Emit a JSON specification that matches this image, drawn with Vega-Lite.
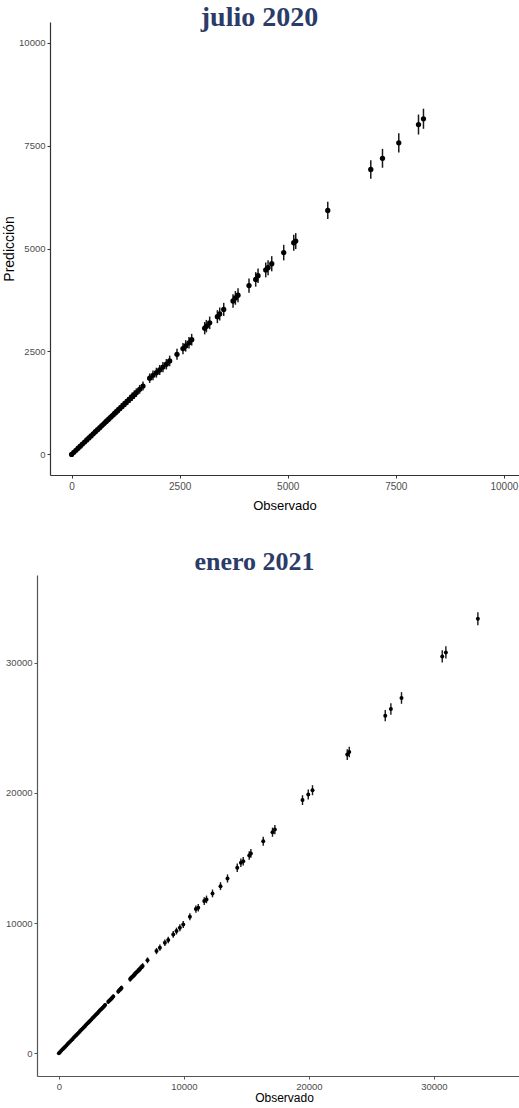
{
  "$schema": "https://vega.github.io/schema/vega-lite/v6.json",
  "background": "white",
  "padding": {"left": 2, "top": 4, "right": 0, "bottom": 0},
  "config": {
    "view": {"stroke": null},
    "axis": {"grid": false, "labelColor": "#4d4d4d", "titleColor": "#000000", "titleFontWeight": "normal", "tickSize": 3, "labelPadding": 2}
  },
  "datasets": {
    "jul": [
      {"obs": 8140, "pred": 8150, "lo": 7906, "hi": 8394},
      {"obs": 8025, "pred": 8010, "lo": 7768, "hi": 8252},
      {"obs": 7569, "pred": 7565, "lo": 7330, "hi": 7800},
      {"obs": 7192, "pred": 7190, "lo": 6961, "hi": 7419},
      {"obs": 6921, "pred": 6920, "lo": 6695, "hi": 7145},
      {"obs": 5926, "pred": 5925, "lo": 5717, "hi": 6133},
      {"obs": 5185, "pred": 5180, "lo": 4986, "hi": 5374},
      {"obs": 5139, "pred": 5140, "lo": 4946, "hi": 5334},
      {"obs": 4907, "pred": 4900, "lo": 4711, "hi": 5089},
      {"obs": 4630, "pred": 4630, "lo": 4446, "hi": 4814},
      {"obs": 4545, "pred": 4535, "lo": 4353, "hi": 4717},
      {"obs": 4491, "pred": 4480, "lo": 4299, "hi": 4661},
      {"obs": 4313, "pred": 4340, "lo": 4163, "hi": 4517},
      {"obs": 4259, "pred": 4250, "lo": 4074, "hi": 4426},
      {"obs": 4104, "pred": 4100, "lo": 3927, "hi": 4273},
      {"obs": 3850, "pred": 3865, "lo": 3697, "hi": 4033},
      {"obs": 3789, "pred": 3800, "lo": 3634, "hi": 3966},
      {"obs": 3734, "pred": 3725, "lo": 3560, "hi": 3890},
      {"obs": 3519, "pred": 3520, "lo": 3360, "hi": 3680},
      {"obs": 3426, "pred": 3410, "lo": 3252, "hi": 3568},
      {"obs": 3372, "pred": 3345, "lo": 3188, "hi": 3502},
      {"obs": 3194, "pred": 3195, "lo": 3042, "hi": 3348},
      {"obs": 3118, "pred": 3115, "lo": 2964, "hi": 3266},
      {"obs": 3079, "pred": 3065, "lo": 2915, "hi": 3215},
      {"obs": 2778, "pred": 2785, "lo": 2643, "hi": 2927},
      {"obs": 2715, "pred": 2710, "lo": 2569, "hi": 2851},
      {"obs": 2639, "pred": 2635, "lo": 2496, "hi": 2774},
      {"obs": 2576, "pred": 2570, "lo": 2433, "hi": 2707},
      {"obs": 2438, "pred": 2430, "lo": 2297, "hi": 2563},
      {"obs": 2268, "pred": 2270, "lo": 2141, "hi": 2399},
      {"obs": 2192, "pred": 2190, "lo": 2064, "hi": 2316},
      {"obs": 2113, "pred": 2120, "lo": 1996, "hi": 2244},
      {"obs": 2037, "pred": 2050, "lo": 1928, "hi": 2172},
      {"obs": 1961, "pred": 1985, "lo": 1865, "hi": 2105},
      {"obs": 1882, "pred": 1920, "lo": 1803, "hi": 2037},
      {"obs": 1806, "pred": 1850, "lo": 1735, "hi": 1965},
      {"obs": 1651, "pred": 1660, "lo": 1550, "hi": 1770},
      {"obs": 1574, "pred": 1580, "lo": 1473, "hi": 1687},
      {"obs": 1497, "pred": 1500, "lo": 1396, "hi": 1604},
      {"obs": 1450, "pred": 1450, "lo": 1347, "hi": 1553},
      {"obs": 1400, "pred": 1400, "lo": 1299, "hi": 1501},
      {"obs": 1350, "pred": 1350, "lo": 1251, "hi": 1449},
      {"obs": 1300, "pred": 1300, "lo": 1203, "hi": 1397},
      {"obs": 1250, "pred": 1250, "lo": 1155, "hi": 1345},
      {"obs": 1200, "pred": 1200, "lo": 1106, "hi": 1294},
      {"obs": 1150, "pred": 1150, "lo": 1058, "hi": 1242},
      {"obs": 1100, "pred": 1100, "lo": 1010, "hi": 1190},
      {"obs": 1050, "pred": 1050, "lo": 962, "hi": 1138},
      {"obs": 1000, "pred": 1000, "lo": 915, "hi": 1085},
      {"obs": 950, "pred": 950, "lo": 867, "hi": 1033},
      {"obs": 900, "pred": 900, "lo": 819, "hi": 981},
      {"obs": 850, "pred": 850, "lo": 771, "hi": 929},
      {"obs": 800, "pred": 800, "lo": 724, "hi": 876},
      {"obs": 750, "pred": 750, "lo": 676, "hi": 824},
      {"obs": 700, "pred": 700, "lo": 629, "hi": 771},
      {"obs": 650, "pred": 650, "lo": 581, "hi": 719},
      {"obs": 600, "pred": 600, "lo": 534, "hi": 666},
      {"obs": 550, "pred": 550, "lo": 487, "hi": 613},
      {"obs": 500, "pred": 500, "lo": 440, "hi": 560},
      {"obs": 450, "pred": 450, "lo": 393, "hi": 507},
      {"obs": 400, "pred": 400, "lo": 346, "hi": 454},
      {"obs": 350, "pred": 350, "lo": 299, "hi": 401},
      {"obs": 300, "pred": 300, "lo": 253, "hi": 347},
      {"obs": 250, "pred": 250, "lo": 207, "hi": 293},
      {"obs": 200, "pred": 200, "lo": 162, "hi": 238},
      {"obs": 150, "pred": 150, "lo": 117, "hi": 183},
      {"obs": 100, "pred": 100, "lo": 73, "hi": 127},
      {"obs": 50, "pred": 50, "lo": 31, "hi": 69},
      {"obs": 0, "pred": 0, "lo": 0, "hi": 0}
    ],
    "ene": [
      {"obs": 33520, "pred": 33390, "lo": 32896, "hi": 33884},
      {"obs": 30960, "pred": 30800, "lo": 30325, "hi": 31275},
      {"obs": 30670, "pred": 30490, "lo": 30017, "hi": 30963},
      {"obs": 27410, "pred": 27300, "lo": 26853, "hi": 27747},
      {"obs": 26560, "pred": 26455, "lo": 26015, "hi": 26895},
      {"obs": 26110, "pred": 25940, "lo": 25504, "hi": 26376},
      {"obs": 23230, "pred": 23150, "lo": 22739, "hi": 23561},
      {"obs": 23070, "pred": 22950, "lo": 22540, "hi": 23360},
      {"obs": 20290, "pred": 20210, "lo": 19825, "hi": 20595},
      {"obs": 19950, "pred": 19880, "lo": 19499, "hi": 20261},
      {"obs": 19490, "pred": 19450, "lo": 19073, "hi": 19827},
      {"obs": 17280, "pred": 17190, "lo": 16835, "hi": 17545},
      {"obs": 17090, "pred": 16985, "lo": 16632, "hi": 17338},
      {"obs": 16350, "pred": 16290, "lo": 15945, "hi": 16635},
      {"obs": 15360, "pred": 15350, "lo": 15015, "hi": 15685},
      {"obs": 15230, "pred": 15195, "lo": 14862, "hi": 15528},
      {"obs": 14750, "pred": 14760, "lo": 14432, "hi": 15088},
      {"obs": 14560, "pred": 14636, "lo": 14310, "hi": 14962},
      {"obs": 14270, "pred": 14250, "lo": 13928, "hi": 14572},
      {"obs": 13490, "pred": 13430, "lo": 13116, "hi": 13744},
      {"obs": 12930, "pred": 12840, "lo": 12533, "hi": 13147},
      {"obs": 12290, "pred": 12280, "lo": 11981, "hi": 12579},
      {"obs": 11810, "pred": 11820, "lo": 11527, "hi": 12113},
      {"obs": 11630, "pred": 11690, "lo": 11399, "hi": 11981},
      {"obs": 11150, "pred": 11180, "lo": 10895, "hi": 11465},
      {"obs": 10960, "pred": 11075, "lo": 10792, "hi": 11358},
      {"obs": 10480, "pred": 10490, "lo": 10214, "hi": 10766},
      {"obs": 9950, "pred": 9900, "lo": 9631, "hi": 10169},
      {"obs": 9680, "pred": 9646, "lo": 9380, "hi": 9912},
      {"obs": 9410, "pred": 9390, "lo": 9128, "hi": 9652},
      {"obs": 9150, "pred": 9133, "lo": 8875, "hi": 9391},
      {"obs": 8750, "pred": 8700, "lo": 8447, "hi": 8953},
      {"obs": 8480, "pred": 8495, "lo": 8246, "hi": 8744},
      {"obs": 8080, "pred": 8110, "lo": 7867, "hi": 8353},
      {"obs": 7810, "pred": 7850, "lo": 7611, "hi": 8089},
      {"obs": 7090, "pred": 7137, "lo": 6910, "hi": 7364},
      {"obs": 6700, "pred": 6700, "lo": 6479, "hi": 6921},
      {"obs": 6600, "pred": 6600, "lo": 6381, "hi": 6819},
      {"obs": 6500, "pred": 6500, "lo": 6282, "hi": 6718},
      {"obs": 6400, "pred": 6400, "lo": 6184, "hi": 6616},
      {"obs": 6300, "pred": 6300, "lo": 6086, "hi": 6514},
      {"obs": 6200, "pred": 6200, "lo": 5987, "hi": 6413},
      {"obs": 6100, "pred": 6100, "lo": 5889, "hi": 6311},
      {"obs": 6000, "pred": 6000, "lo": 5791, "hi": 6209},
      {"obs": 5900, "pred": 5900, "lo": 5693, "hi": 6107},
      {"obs": 5800, "pred": 5800, "lo": 5594, "hi": 6006},
      {"obs": 5700, "pred": 5700, "lo": 5496, "hi": 5904},
      {"obs": 5010, "pred": 5010, "lo": 4819, "hi": 5201},
      {"obs": 4950, "pred": 4950, "lo": 4760, "hi": 5140},
      {"obs": 4850, "pred": 4850, "lo": 4662, "hi": 5038},
      {"obs": 4750, "pred": 4750, "lo": 4564, "hi": 4936},
      {"obs": 4350, "pred": 4350, "lo": 4172, "hi": 4528},
      {"obs": 4250, "pred": 4250, "lo": 4074, "hi": 4426},
      {"obs": 4150, "pred": 4150, "lo": 3976, "hi": 4324},
      {"obs": 4050, "pred": 4050, "lo": 3878, "hi": 4222},
      {"obs": 3950, "pred": 3950, "lo": 3780, "hi": 4120},
      {"obs": 3700, "pred": 3700, "lo": 3536, "hi": 3864},
      {"obs": 3600, "pred": 3600, "lo": 3438, "hi": 3762},
      {"obs": 3500, "pred": 3500, "lo": 3340, "hi": 3660},
      {"obs": 3400, "pred": 3400, "lo": 3243, "hi": 3557},
      {"obs": 3300, "pred": 3300, "lo": 3145, "hi": 3455},
      {"obs": 3200, "pred": 3200, "lo": 3047, "hi": 3353},
      {"obs": 3100, "pred": 3100, "lo": 2950, "hi": 3250},
      {"obs": 3000, "pred": 3000, "lo": 2852, "hi": 3148},
      {"obs": 2900, "pred": 2900, "lo": 2755, "hi": 3045},
      {"obs": 2800, "pred": 2800, "lo": 2657, "hi": 2943},
      {"obs": 2700, "pred": 2700, "lo": 2560, "hi": 2840},
      {"obs": 2600, "pred": 2600, "lo": 2462, "hi": 2738},
      {"obs": 2500, "pred": 2500, "lo": 2365, "hi": 2635},
      {"obs": 2400, "pred": 2400, "lo": 2268, "hi": 2532},
      {"obs": 2300, "pred": 2300, "lo": 2171, "hi": 2429},
      {"obs": 2200, "pred": 2200, "lo": 2073, "hi": 2327},
      {"obs": 2100, "pred": 2100, "lo": 1976, "hi": 2224},
      {"obs": 2000, "pred": 2000, "lo": 1879, "hi": 2121},
      {"obs": 1900, "pred": 1900, "lo": 1782, "hi": 2018},
      {"obs": 1800, "pred": 1800, "lo": 1685, "hi": 1915},
      {"obs": 1700, "pred": 1700, "lo": 1589, "hi": 1811},
      {"obs": 1600, "pred": 1600, "lo": 1492, "hi": 1708},
      {"obs": 1500, "pred": 1500, "lo": 1395, "hi": 1605},
      {"obs": 1400, "pred": 1400, "lo": 1299, "hi": 1501},
      {"obs": 1300, "pred": 1300, "lo": 1203, "hi": 1397},
      {"obs": 1200, "pred": 1200, "lo": 1106, "hi": 1294},
      {"obs": 1100, "pred": 1100, "lo": 1010, "hi": 1190},
      {"obs": 1000, "pred": 1000, "lo": 915, "hi": 1085},
      {"obs": 900, "pred": 900, "lo": 819, "hi": 981},
      {"obs": 800, "pred": 800, "lo": 724, "hi": 876},
      {"obs": 700, "pred": 700, "lo": 629, "hi": 771},
      {"obs": 600, "pred": 600, "lo": 534, "hi": 666},
      {"obs": 500, "pred": 500, "lo": 440, "hi": 560},
      {"obs": 400, "pred": 400, "lo": 346, "hi": 454},
      {"obs": 300, "pred": 300, "lo": 253, "hi": 347},
      {"obs": 200, "pred": 200, "lo": 162, "hi": 238},
      {"obs": 100, "pred": 100, "lo": 73, "hi": 127},
      {"obs": 0, "pred": 0, "lo": 0, "hi": 0}
    ]
  },
  "columns": 1,
  "center": true,
  "spacing": 37,
  "concat": [
    {
      "title": {"text": "julio 2020", "font": "Liberation Serif", "fontSize": 28, "fontWeight": "bold", "color": "#2B3B6A", "anchor": "middle", "offset": -10, "dx": -25},
      "width": 469,
      "height": 453,
      "data": {"name": "jul"},
      "layer": [
        {
          "mark": {"type": "rule", "strokeWidth": 1.5, "color": "#1a1a1a"},
          "encoding": {
            "x": {"field": "obs", "type": "quantitative", "title": "Observado",
              "scale": {"domain": [-500, 10350], "nice": false, "zero": false},
              "axis": {"values": [0, 2500, 5000, 7500, 10000], "format": "d", "domainColor": "#333333", "tickColor": "#333333", "domainWidth": 1.2,
                "labelFont": "Liberation Sans", "labelFontSize": 10, "labelPadding": 3,
                "titleFont": "Liberation Sans", "titleFontSize": 13, "titlePadding": 8}},
            "y": {"field": "lo", "type": "quantitative", "title": "Predicción",
              "scale": {"domain": [-500, 10500], "nice": false, "zero": false},
              "axis": {"values": [0, 2500, 5000, 7500, 10000], "format": "d", "domainColor": "#333333", "tickColor": "#333333", "domainWidth": 1.2,
                "labelFont": "Liberation Sans", "labelFontSize": 9.5,
                "titleFont": "Liberation Sans", "titleFontSize": 14, "titlePadding": 2}},
            "y2": {"field": "hi"}
          }
        },
        {
          "mark": {"type": "point", "filled": true, "color": "#000000", "size": 28, "opacity": 1},
          "encoding": {
            "x": {"field": "obs", "type": "quantitative", "title": "Observado"},
            "y": {"field": "pred", "type": "quantitative", "title": "Predicción"}
          }
        }
      ]
    },
    {
      "title": {"text": "enero 2021", "font": "Liberation Serif", "fontSize": 26, "fontWeight": "bold", "color": "#2B3B6A", "anchor": "middle", "offset": 0, "dx": -30},
      "width": 495,
      "height": 501,
      "data": {"name": "ene"},
      "layer": [
        {
          "mark": {"type": "rule", "strokeWidth": 1.4, "color": "#1a1a1a"},
          "encoding": {
            "x": {"field": "obs", "type": "quantitative", "title": "Observado",
              "scale": {"domain": [-1750, 37850], "nice": false, "zero": false},
              "axis": {"values": [0, 10000, 20000, 30000], "format": "d", "domainColor": "#555555", "tickColor": "#555555", "domainWidth": 1.2,
                "labelFont": "Liberation Sans", "labelFontSize": 9.5, "labelPadding": 2,
                "titleFont": "Liberation Sans", "titleFontSize": 12, "titlePadding": 2, "titleX": 247}},
            "y": {"field": "lo", "type": "quantitative", "title": null,
              "scale": {"domain": [-1750, 36750], "nice": false, "zero": false},
              "axis": {"values": [0, 10000, 20000, 30000], "format": "d", "domainColor": "#555555", "tickColor": "#555555", "domainWidth": 1.2,
                "labelFont": "Liberation Sans", "labelFontSize": 9.5}},
            "y2": {"field": "hi"}
          }
        },
        {
          "mark": {"type": "point", "filled": true, "color": "#000000", "size": 16, "opacity": 1},
          "encoding": {
            "x": {"field": "obs", "type": "quantitative", "title": "Observado"},
            "y": {"field": "pred", "type": "quantitative", "title": null}
          }
        }
      ]
    }
  ]
}
